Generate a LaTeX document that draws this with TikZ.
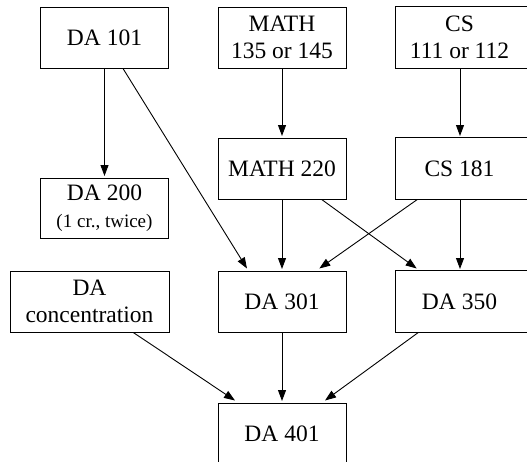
\documentclass[tikz,border=0pt]{standalone}
\usepackage{fontspec}
\setmainfont{Liberation Serif}
\usetikzlibrary{arrows.meta}
\begin{document}
\begin{tikzpicture}[x=1pt,y=-1pt,
  box/.style={draw, line width=1pt, minimum width=128pt, minimum height=61pt, inner sep=0pt, align=center, font=\fontsize{23.5}{27}\selectfont},
  openbox/.style={box, draw=none},
  arr/.style={line width=0.9pt, -{Triangle[length=11pt,width=8pt]}},
  sidebox/.style={line width=1pt}]
\useasboundingbox (0,0) rectangle (527,461);
\clip (0,0) rectangle (527,461);
\node[box] (da101) at (104.5,37.5) {DA 101};
\node[box] (m135) at (282,37.5) {MATH\\135 or 145};
\node[openbox] (cs111) at (459.5,37.5) {CS\\111 or 112};
\node[box, minimum height=60pt] (da200) at (104.5,208) {DA 200\\{\fontsize{19}{23}\selectfont (1 cr., twice)}};
\node[box] (m220) at (282,168.5) {MATH 220};
\node[openbox] (cs181) at (459.5,168.5) {CS 181};
\node[box, minimum width=159pt] (daconc) at (89.5,301.5) {DA\\concentration};
\node[box] (da301) at (282,301.5) {DA 301};
\node[openbox] (da350) at (459.5,301.5) {DA 350};
\node[box] (da401) at (282,433.5) {DA 401};
\draw[sidebox] (cs111.north west) rectangle ([xshift=20pt]cs111.south east);
\draw[sidebox] (cs181.north west) rectangle ([xshift=20pt]cs181.south east);
\draw[sidebox] (da350.north west) rectangle ([xshift=20pt]da350.south east);
\draw[arr] ([yshift=0pt]da101.south) -- ([yshift=1.5pt]da200.north);
\draw[arr] ([xshift=18.5pt]da101.south) -- ([xshift=-35pt,yshift=2pt]da301.north);
\draw[arr] (m135.south) -- ([yshift=1.5pt]m220.north);
\draw[arr] ([xshift=0.5pt]cs111.south) -- ([xshift=0.5pt,yshift=1.5pt]cs181.north);
\draw[arr] (m220.south) -- ([yshift=1.5pt]da301.north);
\draw[arr] ([xshift=39.7pt]m220.south) -- ([xshift=-42.8pt,yshift=2pt]da350.north);
\draw[arr] ([xshift=-42.2pt]cs181.south) -- ([xshift=37.3pt,yshift=2pt]da301.north);
\draw[arr] ([xshift=0.5pt]cs181.south) -- ([xshift=0.5pt,yshift=1.5pt]da350.north);
\draw[arr] ([xshift=43.8pt]daconc.south) -- ([xshift=-47pt,yshift=2pt]da401.north);
\draw[arr] (da301.south) -- ([yshift=1.5pt]da401.north);
\draw[arr] ([xshift=-41.2pt]da350.south) -- ([xshift=43pt,yshift=2pt]da401.north);
\end{tikzpicture}
\end{document}
